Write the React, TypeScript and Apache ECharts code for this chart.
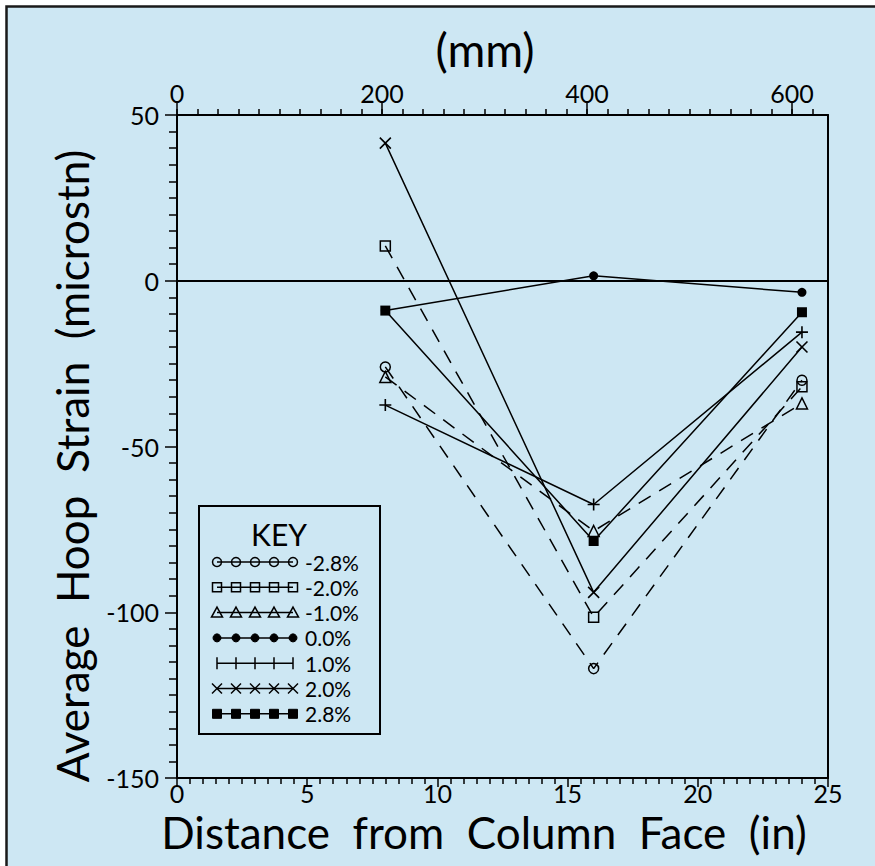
import React, { useEffect, useRef } from "react";
import * as echarts from "echarts";

// ---- data ----
const distanceIn = [8, 16, 24];
const keyLabels = ["-2.8%", "-2.0%", "-1.0%", "0.0%", "1.0%", "2.0%", "2.8%"];
const strainN28 = [-26, -117, -30];
const strainN20 = [10.5, -101.5, -32];
const strainN10 = [-29, -75.5, -37];
const strain00 = [-9, 1.5, -3.5];
const strain10 = [-37.5, -67.5, -15.5];
const strain20 = [41.5, -94, -20];
const strain28 = [-9, -78.5, -9.5];
const xTicksIn = [0, 5, 10, 15, 20, 25];
const topTicksMm = [0, 200, 400, 600];
const topMinorMm = Array.from({ length: 32 }, (_, i) => i * 20);
const yTicks = [-150, -100, -50, 0, 50];

const allValues = [strainN28, strainN20, strainN10, strain00, strain10, strain20, strain28];
const markerKinds = ["openCircle", "openSquare", "openTriangle", "dot", "plus", "cross", "square"];
const dashedFlags = [true, true, true, false, false, false, false];

const FONT = "Lato";
const BG = "#cde7f3";

function symbolFor(kind: string) {
  const stroke = { borderColor: "#000", borderWidth: 1.5 };
  switch (kind) {
    case "openCircle":
      return { symbol: "circle", symbolSize: 10, itemStyle: { color: "rgba(0,0,0,0)", ...stroke } };
    case "openSquare":
      return { symbol: "rect", symbolSize: 10, itemStyle: { color: "rgba(0,0,0,0)", ...stroke } };
    case "openTriangle":
      return { symbol: "triangle", symbolSize: 11, itemStyle: { color: "rgba(0,0,0,0)", ...stroke } };
    case "dot":
      return { symbol: "circle", symbolSize: 9, itemStyle: { color: "#000", borderWidth: 0 } };
    case "plus":
      return { symbol: "path://M5,0L5,10M0,5L10,5", symbolSize: 12, itemStyle: { color: "rgba(0,0,0,0)", borderColor: "#000", borderWidth: 1.6 } };
    case "cross":
      return { symbol: "path://M0,0L10,10M10,0L0,10", symbolSize: 11, itemStyle: { color: "rgba(0,0,0,0)", borderColor: "#000", borderWidth: 1.6 } };
    default:
      return { symbol: "rect", symbolSize: 10, itemStyle: { color: "#000", borderWidth: 0 } };
  }
}

function legendMarker(kind: string, cx: number, cy: number): any[] {
  const st = { fill: "none", stroke: "#000", lineWidth: 1.5 };
  const fl = { fill: "#000", stroke: "#000", lineWidth: 1 };
  switch (kind) {
    case "openCircle":
      return [{ type: "circle", shape: { cx, cy, r: 4.5 }, style: st }];
    case "openSquare":
      return [{ type: "rect", shape: { x: cx - 4.5, y: cy - 4.5, width: 9, height: 9 }, style: st }];
    case "openTriangle":
      return [{ type: "polygon", shape: { points: [[cx, cy - 5.5], [cx + 5.5, cy + 4.5], [cx - 5.5, cy + 4.5]] }, style: st }];
    case "dot":
      return [{ type: "circle", shape: { cx, cy, r: 4 }, style: fl }];
    case "plus":
      return [{ type: "line", shape: { x1: cx, y1: cy - 6, x2: cx, y2: cy + 6 }, style: st }];
    case "cross":
      return [
        { type: "line", shape: { x1: cx - 5, y1: cy - 5, x2: cx + 5, y2: cy + 5 }, style: st },
        { type: "line", shape: { x1: cx + 5, y1: cy - 5, x2: cx - 5, y2: cy + 5 }, style: st },
      ];
    default:
      return [{ type: "rect", shape: { x: cx - 4.5, y: cy - 4.5, width: 9, height: 9 }, style: fl }];
  }
}

export default function App() {
  const ref = useRef<HTMLDivElement>(null);
  useEffect(() => {
    if (!ref.current) return;
    const chart = echarts.init(ref.current, undefined, { renderer: "svg" });

    const axisLine = { show: true, onZero: false, lineStyle: { color: "#000", width: 2 } };
    const tickStyle = { color: "#000", width: 1.5 };
    const labelStyle = { color: "#000", fontSize: 25, fontFamily: FONT, fontWeight: 400 as any };

    const series: any[] = allValues.map((vals, i) => {
      const sym = symbolFor(markerKinds[i]);
      return {
        type: "line",
        name: keyLabels[i],
        xAxisIndex: 0,
        yAxisIndex: 0,
        data: distanceIn.map((x, j) => [x, vals[j]]),
        symbol: sym.symbol,
        symbolSize: sym.symbolSize,
        itemStyle: sym.itemStyle,
        showSymbol: true,
        lineStyle: { color: "#000", width: 1.5, type: dashedFlags[i] ? [14, 10] : "solid" },
        emphasis: { disabled: true },
        z: 3,
        ...(i === 3
          ? {
              markLine: {
                silent: true,
                symbol: "none",
                label: { show: false },
                lineStyle: { color: "#000", width: 2, type: "solid" },
                data: [{ yAxis: 0 }],
              },
            }
          : {}),
      };
    });

    // legend (KEY) drawn as graphic
    const legendX0 = 217;
    const legendStep = 19;
    const rowY0 = 562;
    const rowStep = 25.3;
    const legendEls: any[] = [
      { type: "rect", shape: { x: 199, y: 506, width: 181, height: 228 }, style: { fill: "none", stroke: "#000", lineWidth: 2 } },
      { type: "text", x: 279, y: 534, style: { text: "KEY", textAlign: "center", textVerticalAlign: "middle", fontSize: 30, fontFamily: FONT, fontWeight: 400, fill: "#000" } },
    ];
    keyLabels.forEach((lab, i) => {
      const cy = rowY0 + i * rowStep;
      legendEls.push({ type: "line", shape: { x1: legendX0, y1: cy, x2: legendX0 + 4 * legendStep, y2: cy }, style: { stroke: "#000", lineWidth: 1.5 } });
      for (let k = 0; k < 5; k++) {
        legendMarker(markerKinds[i], legendX0 + k * legendStep, cy).forEach((e) => legendEls.push(e));
      }
      legendEls.push({ type: "text", x: 305, y: cy, style: { text: lab, textAlign: "left", textVerticalAlign: "middle", fontSize: 21, fontFamily: FONT, fontWeight: 400, fill: "#000" } });
    });

    const option: any = {
      animation: false,
      backgroundColor: "#ffffff",
      grid: { left: 177, top: 115, width: 651, height: 663, show: false },
      xAxis: [
        {
          type: "value",
          position: "bottom",
          min: 0,
          max: 25,
          interval: 5,
          axisLine,
          axisTick: { show: true, length: 9, lineStyle: tickStyle, customValues: xTicksIn },
          minorTick: { show: true, splitNumber: 10, length: 6, lineStyle: tickStyle },
          axisLabel: { ...labelStyle, margin: 2, customValues: xTicksIn },
          splitLine: { show: false },
          minorSplitLine: { show: false },
        },
        {
          type: "value",
          position: "top",
          min: 0,
          max: 635,
          axisLine,
          axisTick: { show: true, length: 12, lineStyle: tickStyle, customValues: topTicksMm },
          axisLabel: { ...labelStyle, margin: 10, customValues: topTicksMm },
          splitLine: { show: false },
        },
        {
          type: "value",
          position: "top",
          min: 0,
          max: 635,
          axisLine: { show: false, onZero: false },
          axisTick: { show: true, length: 6, lineStyle: tickStyle, customValues: topMinorMm },
          axisLabel: { show: false },
          splitLine: { show: false },
        },
      ],
      yAxis: [
        {
          type: "value",
          position: "left",
          min: -150,
          max: 50,
          interval: 50,
          axisLine,
          axisTick: { show: true, length: 12, lineStyle: tickStyle, customValues: yTicks },
          minorTick: { show: true, splitNumber: 10, length: 8, lineStyle: tickStyle },
          axisLabel: { ...labelStyle, margin: 18, customValues: yTicks },
          splitLine: { show: false },
          minorSplitLine: { show: false },
        },
        {
          type: "value",
          position: "right",
          min: -150,
          max: 50,
          axisLine,
          axisTick: { show: false },
          axisLabel: { show: false },
          splitLine: { show: false },
        },
      ],
      graphic: [
        { type: "rect", z: -10, silent: true, shape: { x: 6.5, y: 6.5, width: 900, height: 900 }, style: { fill: BG, stroke: "#1a1a1a", lineWidth: 2.5 } },
        { type: "text", x: 485, y: 49, style: { text: "(mm)", textAlign: "center", textVerticalAlign: "middle", fontSize: 46, fontFamily: FONT, fontWeight: 400, fill: "#000" } },
        { type: "text", x: 484, y: 832, style: { text: "Distance  from  Column  Face  (in)", textAlign: "center", textVerticalAlign: "middle", fontSize: 44, fontFamily: FONT, fontWeight: 400, fill: "#000" } },
        { type: "text", x: 72, y: 466, rotation: Math.PI / 2, style: { text: "Average  Hoop  Strain  (microstn)", textAlign: "center", textVerticalAlign: "middle", fontSize: 44, fontFamily: FONT, fontWeight: 400, fill: "#000" } },
        ...legendEls,
      ],
      series,
    };
    chart.setOption(option);
    return () => chart.dispose();
  }, []);
  return <div ref={ref} style={{ position: "fixed", left: 0, top: 0, width: 875, height: 866 }} />;
}
